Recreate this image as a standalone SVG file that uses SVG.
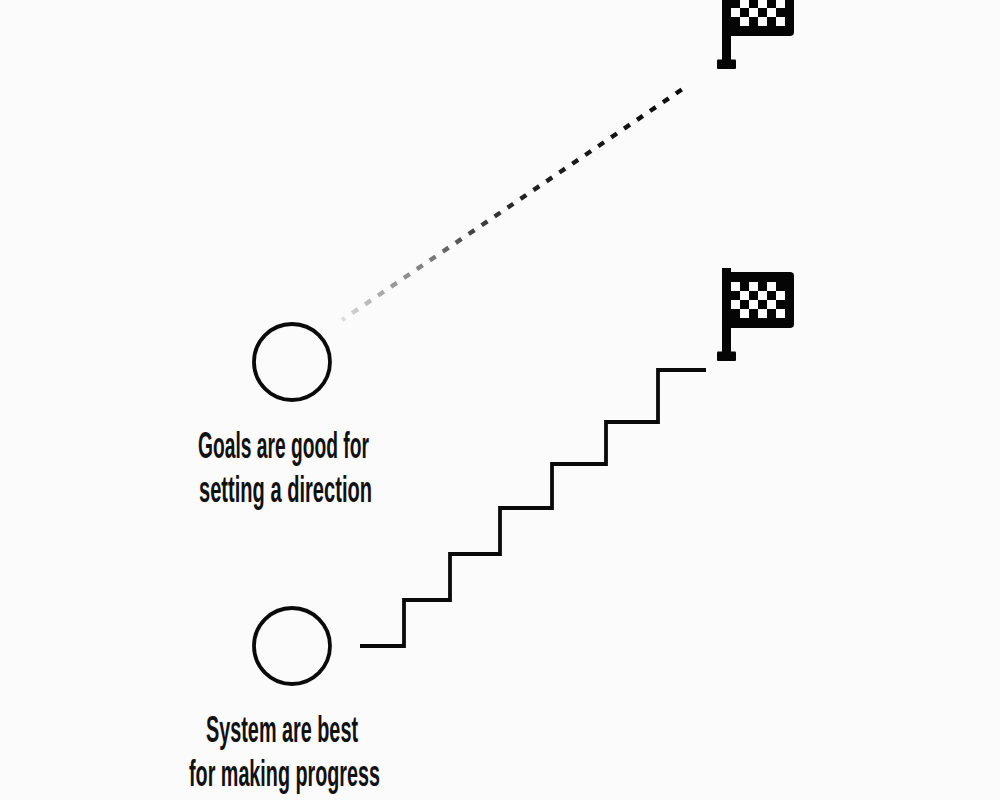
<svg xmlns="http://www.w3.org/2000/svg" xmlns:xlink="http://www.w3.org/1999/xlink" width="1000" height="800" viewBox="0 0 1000 800">
<style>
.ring{fill:none;stroke:#0a0a0a;stroke-width:3.8}
.lbl{font-family:"Liberation Sans",Arial,sans-serif;font-weight:700;font-size:36px;fill:#111}
.stairs{fill:none;stroke:#0a0a0a;stroke-width:3.8}
.dash{fill:none;stroke:url(#fade);stroke-width:4.4;stroke-dasharray:7 8.65;stroke-dashoffset:3.4}
</style>
<defs>
<linearGradient id="fade" gradientUnits="userSpaceOnUse" x1="342" y1="320" x2="684" y2="88">
<stop offset="0" stop-color="#dddddd"/>
<stop offset="0.15" stop-color="#999"/>
<stop offset="0.27" stop-color="#777"/>
<stop offset="0.38" stop-color="#444"/>
<stop offset="0.53" stop-color="#222"/>
<stop offset="1" stop-color="#0a0a0a"/>
</linearGradient>
<g id="flag">
<rect x="722" y="268" width="9" height="88" fill="#050505"/>
<rect x="717" y="351.500" width="19" height="9.500" rx="1" fill="#050505"/>
<rect x="726" y="272" width="68" height="56" rx="4" fill="#050505"/>
<g fill="#fbfbfb">
<rect x="731" y="282" width="9" height="9"/><rect x="749" y="282" width="9" height="9"/><rect x="767" y="282" width="9" height="9"/>
<rect x="740" y="291" width="9" height="9"/><rect x="758" y="291" width="9" height="9"/><rect x="776" y="291" width="9" height="9"/>
<rect x="731" y="300" width="9" height="9"/><rect x="749" y="300" width="9" height="9"/><rect x="767" y="300" width="9" height="9"/>
<rect x="740" y="309" width="9" height="9"/><rect x="758" y="309" width="9" height="9"/><rect x="776" y="309" width="9" height="9"/>
</g>
</g>
</defs>
<rect width="1000" height="800" fill="#fbfbfb"/>
<g id="connectors">
<path class="dash" d="M342 320L684 88"/>
<path class="stairs" d="M360 646H404V600H450V554H500V508H552V464H606V422H658V370H706"/>
</g>
<g id="flag-top"><use xlink:href="#flag" href="#flag" y="-292"/></g>
<g id="flag-bottom"><use xlink:href="#flag" href="#flag"/></g>
<g id="goals">
<circle class="ring" cx="292" cy="362" r="38"/>
<text class="lbl" x="198" y="458" textLength="171" lengthAdjust="spacingAndGlyphs">Goals are good for</text>
<text class="lbl" x="199" y="502" textLength="173" lengthAdjust="spacingAndGlyphs">setting a direction</text>
</g>
<g id="system">
<circle class="ring" cx="292" cy="646" r="38"/>
<text class="lbl" x="206" y="742" textLength="152" lengthAdjust="spacingAndGlyphs">System are best</text>
<text class="lbl" x="189" y="786" textLength="191" lengthAdjust="spacingAndGlyphs">for making progress</text>
</g>
</svg>
